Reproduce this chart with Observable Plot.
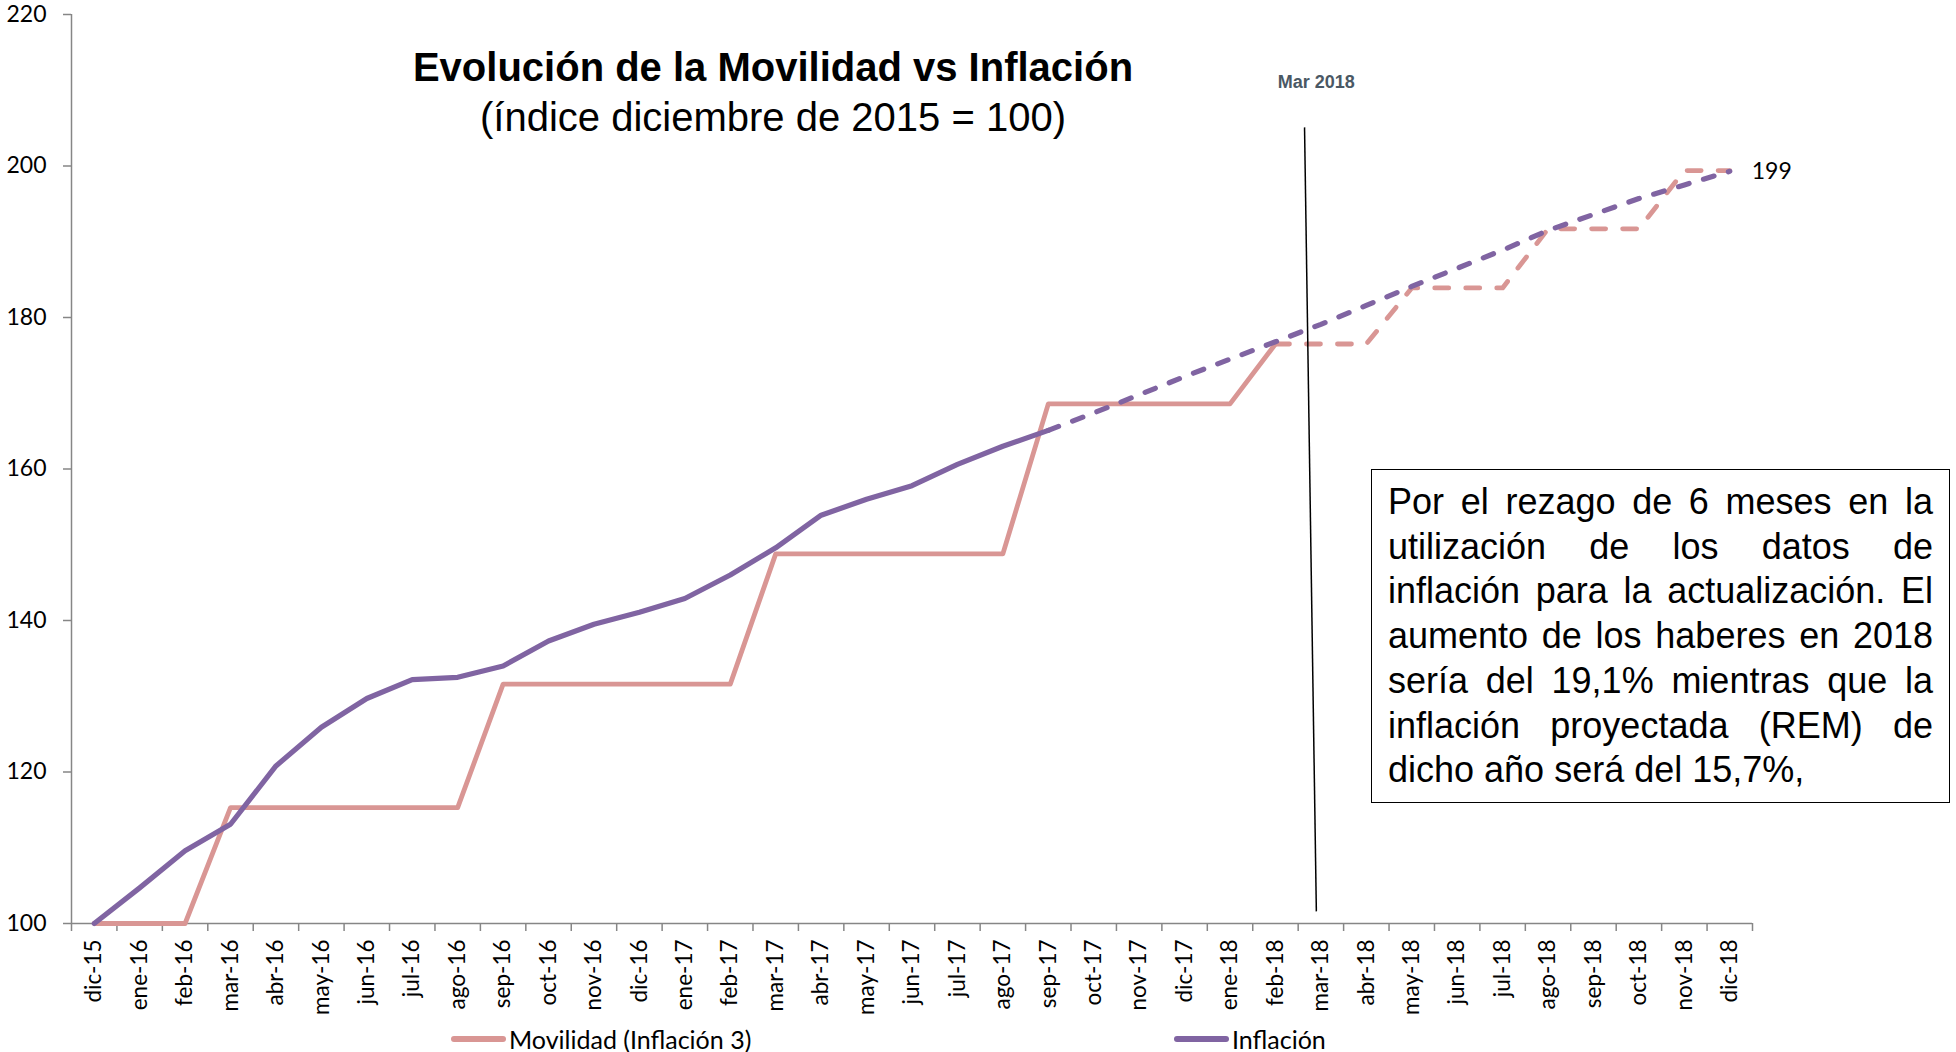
<!DOCTYPE html>
<html>
<head>
<meta charset="utf-8">
<script src="https://cdn.jsdelivr.net/npm/d3@7"></script>
<script src="https://cdn.jsdelivr.net/npm/@observablehq/plot@0.6"></script>
<style>
  html, body { margin: 0; padding: 0; background: #fff; }
  body { width: 1956px; height: 1052px; position: relative; overflow: hidden; font-family: Lato, "Open Sans", sans-serif; }
  #chart { position: absolute; left: 0; top: 0; }
  .ttl { position: absolute; left: 773px; transform: translateX(-50%); white-space: nowrap; font-family: "Liberation Sans", Arial, sans-serif; color: #000; line-height: 40px; }
  #title { top: 47px; font-size: 40px; font-weight: bold; }
  #subtitle { top: 97px; font-size: 40px; }
  #note { position: absolute; left: 1371px; top: 469px; width: 579px; height: 334px; box-sizing: border-box; border: 1.5px solid #000; padding: 10px 16px; font-family: "Liberation Sans", Arial, sans-serif; font-size: 36px; line-height: 44.7px; color: #000; background: #fff; }
  #note div { text-align: justify; text-align-last: justify; white-space: nowrap; }
  #note div.last { text-align-last: left; }
  .leg { position: absolute; top: 1025px; height: 28px; display: flex; align-items: center; font-family: Lato, sans-serif; font-size: 25px; color: #000; white-space: nowrap; }
  .sw { display: inline-block; width: 55px; height: 6px; border-radius: 3px; margin-right: 3px; }
</style>
</head>
<body>
<div id="chart"></div>
<div id="title" class="ttl"></div>
<div id="subtitle" class="ttl"></div>
<div id="note"></div>
<div id="legend"></div>
<script>
// ---- data ----
const months = ["dic-15","ene-16","feb-16","mar-16","abr-16","may-16","jun-16","jul-16","ago-16","sep-16","oct-16","nov-16","dic-16","ene-17","feb-17","mar-17","abr-17","may-17","jun-17","jul-17","ago-17","sep-17","oct-17","nov-17","dic-17","ene-18","feb-18","mar-18","abr-18","may-18","jun-18","jul-18","ago-18","sep-18","oct-18","nov-18","dic-18"];
const movilidad = [100,100,100,115.3,115.3,115.3,115.3,115.3,115.3,131.6,131.6,131.6,131.6,131.6,131.6,148.8,148.8,148.8,148.8,148.8,148.8,168.6,168.6,168.6,168.6,168.6,176.5,176.5,176.5,183.9,183.9,183.9,191.7,191.7,191.7,199.4,199.4];
const inflacion = [100,104.7,109.6,113.1,120.8,125.9,129.7,132.2,132.5,134.0,137.3,139.5,141.1,142.9,146.0,149.6,153.9,156.0,157.8,160.6,163.0,165.1,167.4,169.8,172.2,174.5,176.8,179.1,181.6,184.1,186.5,188.9,191.5,193.6,195.7,197.5,199.3];
const movilidadProyeccionDesde = "feb-18";
const inflacionProyeccionDesde = "sep-17";
const yTicks = [100,120,140,160,180,200,220];
const seriesNames = ["Movilidad (Inflación 3)", "Inflación"];
const titleText = "Evolución de la Movilidad vs Inflación";
const subtitleText = "(índice diciembre de 2015 = 100)";
const annotation = [{label: "Mar 2018", x1: 26.64, y1: 205.1, x2: 26.9, y2: 101.6, lx: 26.9, ly: 211.1}];
const noteLines = ["Por el rezago de 6 meses en la","utilización de los datos de","inflación para la actualización. El","aumento de los haberes en 2018","sería del 19,1% mientras que la","inflación proyectada (REM) de","dicho año será del 15,7%,"];

// ---- styles ----
const pink = "#d99694", purple = "#8064a2", axisGray = "#868686";

const rows = months.map((m, i) => ({i, month: m, mov: movilidad[i], inf: inflacion[i]}));
const mFrom = months.indexOf(movilidadProyeccionDesde);
const iFrom = months.indexOf(inflacionProyeccionDesde);
const edges = d3.range(months.length + 1).map(i => i - 0.5);
const last = rows[rows.length - 1];

const chart = Plot.plot({
  width: 1956, height: 1025,
  marginLeft: 71, marginRight: 204, marginTop: 14, marginBottom: 102,
  style: {fontFamily: "Lato, sans-serif", color: "#000", background: "transparent", overflow: "visible"},
  x: {domain: [-0.5, months.length - 0.5]},
  y: {domain: [100, 220]},
  marks: [
    Plot.ruleX([-0.5], {stroke: axisGray, strokeWidth: 1.5}),
    Plot.ruleY([100], {stroke: axisGray, strokeWidth: 1.5}),
    Plot.axisY(yTicks, {tickSize: 8, tickPadding: 17, stroke: axisGray, strokeWidth: 1.5, fill: "#000", fontSize: 23, label: null}),
    Plot.axisX(edges, {tickSize: 8, tickFormat: () => "", stroke: axisGray, strokeWidth: 1.5, label: null}),
    Plot.axisX(d3.range(months.length), {tickSize: 0, tickPadding: 16, tickRotate: -90, tickFormat: i => months[i], fill: "#000", fontSize: 22.5, label: null}),
    Plot.line(rows.slice(0, mFrom + 1), {x: "i", y: "mov", stroke: pink, strokeWidth: 4.8, strokeLinejoin: "round"}),
    Plot.line(rows.slice(mFrom), {x: "i", y: "mov", stroke: pink, strokeWidth: 4.8, strokeLinecap: "round", strokeLinejoin: "round", strokeDasharray: "14,17"}),
    Plot.line(rows.slice(0, iFrom + 1), {x: "i", y: "inf", stroke: purple, strokeWidth: 5.2, strokeLinejoin: "round"}),
    Plot.line(rows.slice(iFrom), {x: "i", y: "inf", stroke: purple, strokeWidth: 5.2, strokeLinecap: "round", strokeLinejoin: "round", strokeDasharray: "11,15"}),
    Plot.text([last], {x: "i", y: "inf", text: d => d3.format(".0f")(Math.floor(d.inf)), dx: 22, textAnchor: "start", fontSize: 23, fill: "#000"}),
    Plot.link(annotation, {x1: "x1", y1: "y1", x2: "x2", y2: "y2", stroke: "#000", strokeWidth: 1.5}),
    Plot.text(annotation, {x: "lx", y: "ly", text: "label", fontFamily: "Liberation Sans, Arial, sans-serif", fontWeight: "bold", fontSize: 18, fill: "#4a5864"})
  ]
});
document.getElementById("chart").appendChild(chart);

document.getElementById("title").textContent = titleText;
document.getElementById("subtitle").textContent = subtitleText;
const note = document.getElementById("note");
noteLines.forEach((t, k) => {
  const d = document.createElement("div");
  d.textContent = t;
  if (k === noteLines.length - 1) d.className = "last";
  note.appendChild(d);
});

const legendPos = [{left: 451, color: pink}, {left: 1174, color: purple}];
const legend = document.getElementById("legend");
seriesNames.forEach((name, k) => {
  const item = document.createElement("div");
  item.className = "leg";
  item.style.left = legendPos[k].left + "px";
  const sw = document.createElement("span");
  sw.className = "sw";
  sw.style.background = legendPos[k].color;
  item.appendChild(sw);
  item.appendChild(document.createTextNode(name));
  legend.appendChild(item);
});
</script>
</body>
</html>
